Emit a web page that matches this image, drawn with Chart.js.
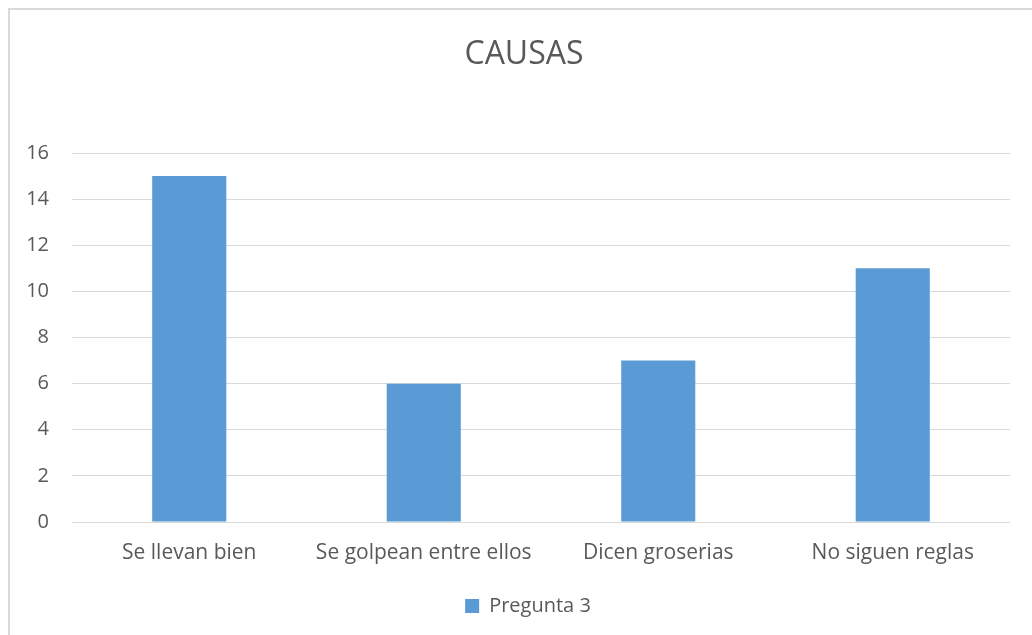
<!DOCTYPE html>
<html>
<head>
<meta charset="utf-8">
<script src="https://cdn.jsdelivr.net/npm/chart.js@4.4.0/dist/chart.umd.min.js"></script>
<style>
  html, body { margin: 0; padding: 0; background: #fff; overflow: hidden; }
  #marco {
    position: absolute; left: 8px; top: 8px;
    width: 2000px; height: 2000px;
    border: 2px solid #d9d9d9;
  }
  #grafico { position: absolute; left: 0; top: 0; }
</style>
</head>
<body>
<div id="marco"></div>
<canvas id="grafico" width="1032" height="635"></canvas>
<script>
// Datos del grafico
const categorias = ['Se llevan bien', 'Se golpean entre ellos', 'Dicen groserias', 'No siguen reglas'];
const pregunta3 = [15, 6, 7, 11];
const nombreSerie = 'Pregunta 3';
const titulo = 'CAUSAS';

const gris = '#595959';
const fuente = "'Open Sans', 'DejaVu Sans', sans-serif";

// El titulo y la leyenda van centrados sobre el marco, no sobre el area del grafico
const centrarEnMarco = {
    id: 'centrarEnMarco',
    afterLayout(chart) {
        if (chart.titleBlock) {
            chart.titleBlock.left += 19;
            chart.titleBlock.right += 19;
        }
        if (chart.legend) {
            chart.legend.left += 23;
            chart.legend.right += 23;
        }
    }
};

function generarGrafico() {
    let ctx = document.getElementById('grafico').getContext('2d');
    let chart = new Chart(ctx, {
        type: 'bar',
        data: {
            labels: categorias,
            datasets: [
                {
                    label: nombreSerie,
                    data: pregunta3,
                    backgroundColor: '#5b9bd5',
                    borderWidth: 0,
                    barPercentage: 0.632,
                    categoryPercentage: 0.5
                }
            ]
        },
        options: {
            responsive: false,
            animation: false,
            layout: { padding: { left: 0, right: 22, top: 36, bottom: 9 } },
            plugins: {
                title: {
                    display: true,
                    text: titulo,
                    color: gris,
                    font: { family: fuente, size: 32, weight: 'normal' },
                    padding: { top: 0, bottom: 78.6 }
                },
                legend: {
                    position: 'bottom',
                    labels: {
                        color: gris,
                        font: { family: fuente, size: 20 },
                        boxWidth: 14,
                        boxHeight: 14,
                        padding: 10
                    }
                },
                tooltip: { enabled: false }
            },
            scales: {
                x: {
                    grid: { display: false, drawTicks: false },
                    border: { display: false },
                    ticks: {
                        color: gris,
                        font: { family: fuente, size: 21 },
                        padding: 18,
                        maxRotation: 0
                    },
                    afterFit: function(scale) { scale.height = 64; }
                },
                y: {
                    min: 0,
                    max: 16,
                    grid: { color: '#d9d9d9', lineWidth: 1, drawTicks: false },
                    border: { display: false },
                    ticks: {
                        stepSize: 2,
                        color: gris,
                        font: { family: fuente, size: 20 },
                        padding: 23
                    },
                    afterFit: function(scale) { scale.width = 72; }
                }
            }
        },
        plugins: [centrarEnMarco]
    });
    console.log(chart.chartArea);
}

window.addEventListener('load', function() {
    generarGrafico();
});
</script>
</body>
</html>
